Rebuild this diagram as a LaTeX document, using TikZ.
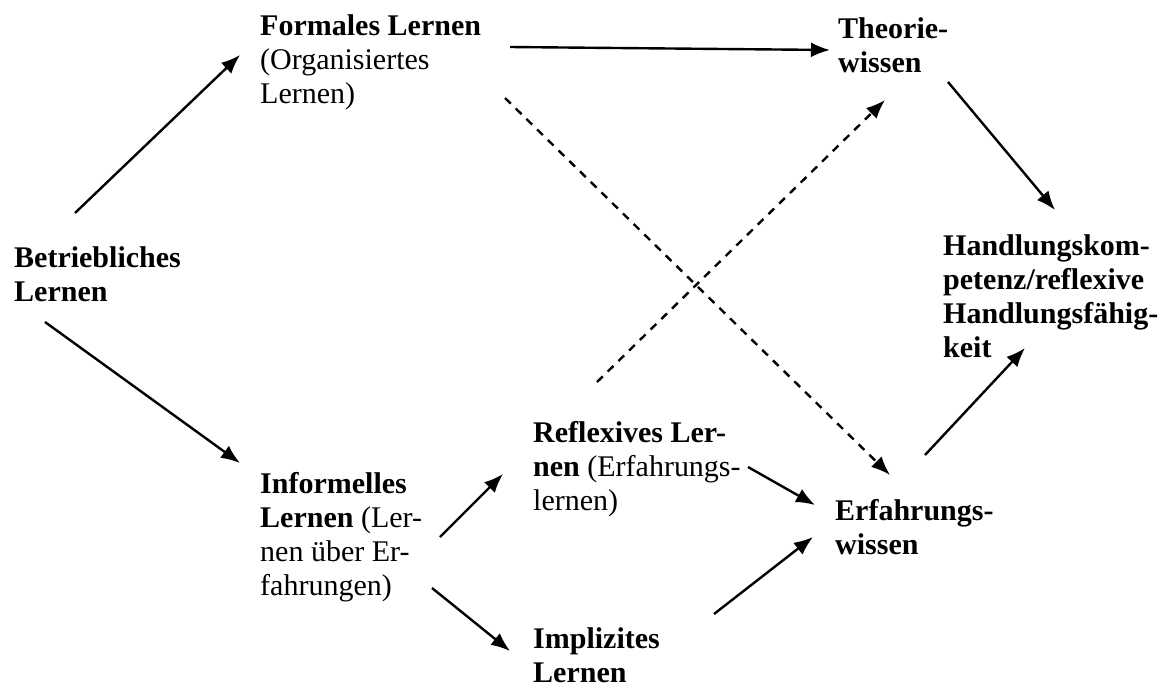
\documentclass[tikz,border=0pt]{standalone}
\usepackage{fontspec}
\setmainfont{Liberation Serif}
\usetikzlibrary{arrows.meta}
\begin{document}
\begin{tikzpicture}[x=1pt,y=-1pt,
  lbl/.style={anchor=north west, inner sep=0pt, align=left, font=\fontsize{30}{34}\selectfont},
  arr/.style={line width=2.4pt, -{Latex[length=19pt,width=15pt]}},
  darr/.style={arr, dash pattern=on 8pt off 7pt}]
\useasboundingbox[fill=white] (0,0) rectangle (1165,688);
\node[lbl] (formal) at (260,14) {\textbf{Formales Lernen}\\(Organisiertes\\Lernen)};
\node[lbl] (theorie) at (838,17) {\textbf{Theorie-}\\\textbf{wissen}};
\node[lbl] (betr) at (14,246) {\textbf{Betriebliches}\\\textbf{Lernen}};
\node[lbl] (handl) at (943,234) {\textbf{Handlungskom-}\\\textbf{petenz/reflexive}\\\textbf{Handlungsfähig-}\\\textbf{keit}};
\node[lbl] (inform) at (260,472) {\textbf{Informelles}\\\textbf{Lernen} (Ler-\\nen über Er-\\fahrungen)};
\node[lbl] (reflex) at (533,421) {\textbf{Reflexives Ler-}\\\textbf{nen} (Erfahrungs-\\lernen)};
\node[lbl] (implizit) at (533,627) {\textbf{Implizites}\\\textbf{Lernen}};
\node[lbl] (erfahr) at (835,499) {\textbf{Erfahrungs-}\\\textbf{wissen}};

\draw[arr] ([shift={(61,-33)}]betr.north west) -- ([shift={(-20,41)}]formal.north west);
\draw[arr] ([shift={(31,76)}]betr.north west) -- ([shift={(-20,-9)}]inform.north west);
\draw[arr] ([shift={(250,33)}]formal.north west) -- ([shift={(-8,33)}]theorie.north west);
\draw[darr] ([shift={(245,84)}]formal.north west) -- ([shift={(55,-24)}]erfahr.north west);
\draw[darr] ([shift={(64,-39)}]reflex.north west) -- ([shift={(47,83)}]theorie.north west);
\draw[arr] ([shift={(110,65)}]theorie.north west) -- ([shift={(112,-24)}]handl.north west);
\draw[arr] ([shift={(90,-44)}]erfahr.north west) -- ([shift={(82,114)}]handl.north west);
\draw[arr] ([shift={(180,65)}]inform.north west) -- ([shift={(-30,53)}]reflex.north west);
\draw[arr] ([shift={(172,116)}]inform.north west) -- ([shift={(-23,24)}]implizit.north west);
\draw[arr] ([shift={(215,46)}]reflex.north west) -- ([shift={(-20,6)}]erfahr.north west);
\draw[arr] ([shift={(181,-13)}]implizit.north west) -- ([shift={(-22,38)}]erfahr.north west);
\end{tikzpicture}
\end{document}
